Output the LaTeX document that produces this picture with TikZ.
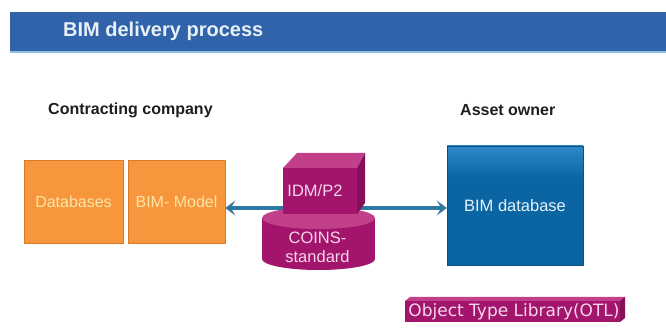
\documentclass[tikz,border=0pt]{standalone}
\usepackage{fontspec}
\setmainfont{Liberation Sans}
\newfontfamily\otlfont{DejaVu Sans}
\usetikzlibrary{arrows.meta,calc}

\definecolor{barblue}{HTML}{3063A9}
\definecolor{barline}{HTML}{8FC0E0}
\definecolor{titletext}{HTML}{E8F0F8}
\definecolor{headtext}{HTML}{1E1E1E}
\definecolor{orangefill}{HTML}{F7963C}
\definecolor{orangeedge}{HTML}{D87A28}
\definecolor{orangetext}{HTML}{FAE6A6}
\definecolor{dbblue}{HTML}{0B65A3}
\definecolor{dbtop}{HTML}{2F88C8}
\definecolor{dbedge}{HTML}{0A4F80}
\definecolor{dbtext}{HTML}{E6F2FC}
\definecolor{magfront}{HTML}{A3146C}
\definecolor{magtop}{HTML}{C2408A}
\definecolor{magside}{HTML}{850F58}
\definecolor{magtext}{HTML}{F6D6EA}
\definecolor{arrowblue}{HTML}{2E78A2}

\tikzset{
  heading/.style={anchor=west, inner sep=0, text=headtext, font=\fontsize{16}{19}\selectfont\bfseries},
  orangebox/.style={fill=orangefill, draw=orangeedge, line width=0.6, inner sep=0,
    minimum height=83, text=orangetext, font=\fontsize{16}{19}\selectfont},
  magtextstyle/.style={text=magtext, font=\fontsize{16.5}{19}\selectfont, align=center, inner sep=0},
  link/.style={draw=arrowblue, line width=3.4,
    {Stealth[length=10pt,width=15pt,inset=4.5pt]}-{Stealth[length=10pt,width=15pt,inset=4.5pt]}}
}

\begin{document}
\begin{tikzpicture}[x=1pt,y=-1pt]
\useasboundingbox (0,0) rectangle (666,328);
\fill[white] (0,0) rectangle (666,328);

% title bar
\fill[barblue] (10,12) rectangle (666,52);
\draw[barline, line width=1.4] (10,52) -- (666,52);
\node[anchor=west, inner sep=0, text=titletext, font=\fontsize{20}{24}\selectfont\bfseries] (title) at (63,31.5) {BIM delivery process};

% column headings
\node[heading] (contractor) at (48,110) {Contracting company};
\node[heading] (owner) at (460,110) {Asset owner};

% contractor side
\node[orangebox, minimum width=99] (databases) at (73.5,201.5) {Databases};
\node[orangebox, minimum width=97] (bimmodel) at (176.5,201.5) {BIM- Model};

% asset owner database
\node[fill=dbblue, minimum width=136, minimum height=119, inner sep=0,
      text=dbtext, font=\fontsize{16.5}{19}\selectfont] (bimdb) at (515,205.5) {BIM database};
\shade[top color=dbtop, bottom color=dbblue] (447,146) rectangle (583,178);
\draw[barline, line width=1] (447,265.5) -- (583,265.5);
\draw[dbedge, line width=0.6] (447,146) rectangle (583,265);

% exchange link between both parties
\coordinate (linky) at (0,208);
\draw[link] (bimmodel.east |- linky) -- (bimdb.west |- linky);

% COINS cylinder
\fill[magfront] (262,218) rectangle (375,259);
\fill[magfront] (318.5,259) ellipse [x radius=56.5, y radius=11];
\fill[magtop] (318.5,218) ellipse [x radius=56.5, y radius=11];
\node[magtextstyle] (coins) at (317.5,247.5) {COINS-\\standard};

% IDM/P2 block
\fill[magtop] (283,168) -- (297,153) -- (365,153) -- (357,168) -- cycle;
\fill[magside] (357,168) -- (365,153) -- (365,203) -- (357,214) -- cycle;
\fill[magfront] (283,168) rectangle (357,214);
\node[magtextstyle] (idm) at (315,190.5) {IDM/P2};

% object type library bar
\fill[magtop] (405,301) -- (410,297) -- (625,297) -- (620,301) -- cycle;
\fill[magside] (620,301) -- (625,297) -- (625,318) -- (620,322) -- cycle;
\fill[magfront] (405,301) rectangle (620,322);
\node[text=magtext, font=\otlfont\fontsize{17}{20}\selectfont, inner sep=0] (otl) at (514,311.5) {Object Type Library(OTL)};
\end{tikzpicture}
\end{document}
